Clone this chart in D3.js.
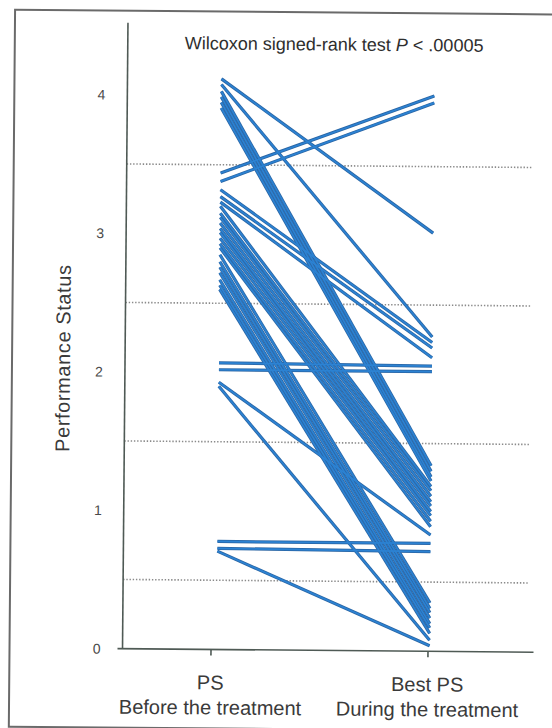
<!DOCTYPE html>
<html>
<head>
<meta charset="utf-8">
<script src="https://cdn.jsdelivr.net/npm/d3@7"></script>
<style>
  body { margin: 0; background: #fff; }
  svg { display: block; }
</style>
</head>
<body>
<svg id="chart" width="552" height="728"></svg>
<script>
// Paired performance status per patient: before treatment and best during treatment
const categories = ["PS", "Best PS"];
const categoryNotes = ["Before the treatment", "During the treatment"];
const psBefore = [4.12, 4.08, 4.03, 3.99, 3.95, 3.91, 3.44, 3.38, 3.32, 3.27, 3.23, 3.20,
                  3.15, 3.12, 3.08, 3.04, 3.01, 2.97, 2.93, 2.90, 2.85, 2.80, 2.76, 2.72,
                  2.67, 2.63, 2.60, 2.07, 2.02, 1.93, 1.90, 0.78, 0.73, 0.71];
const psBest   = [3.02, 2.27, 1.34, 1.30, 1.26, 1.23, 4.01, 3.96, 2.23, 2.19, 2.12, 1.19,
                  1.16, 1.12, 1.08, 1.05, 1.01, 0.98, 0.94, 0.90, 0.35, 0.31, 0.28, 0.24,
                  0.20, 0.17, 0.13, 2.06, 2.02, 0.84, 0.08, 0.78, 0.72, 0.04];
const yTicks = [0, 1, 2, 3, 4];
const guideLevels = [0.5, 1.5, 2.5, 3.5];
const titleParts = ["Wilcoxon signed-rank test ", "P", " < .00005"];
const yTitle = "Performance Status";

const svg = d3.select("#chart");
const page = svg.append("g").attr("transform", "rotate(0.5,276,364)");

// outer frame
page.append("rect")
  .attr("x", 12).attr("y", 12).attr("width", 560).attr("height", 717)
  .attr("fill", "none").attr("stroke", "#6a6a6a").attr("stroke-width", 2);

const y = d3.scaleLinear().domain([0, 4]).range([650, 96]);
const xAxisScale = d3.scalePoint().domain(categories).range([213, 430]);
const xLine = d3.scalePoint().domain(categories).range([219, 432]);
const axisX0 = 125;

// dotted reference levels
page.append("g").selectAll("line").data(guideLevels).join("line")
  .attr("x1", axisX0).attr("x2", 530)
  .attr("y1", d => y(d)).attr("y2", d => y(d))
  .attr("stroke", "#8a8a8a").attr("stroke-width", 1.6)
  .attr("stroke-dasharray", "1.4,1.8");

// y axis: labels only, plus the vertical rule
const yAxis = page.append("g").attr("transform", `translate(${axisX0},0)`)
  .call(d3.axisLeft(y).tickValues(yTicks).tickSize(0).tickPadding(22).tickFormat(d3.format("d")));
yAxis.select(".domain").remove();
yAxis.selectAll("text").attr("font-family", "Liberation Sans, Arial, sans-serif")
  .attr("font-size", 14).attr("fill", "#4a4a4a");
page.append("line").attr("x1", axisX0).attr("x2", axisX0).attr("y1", 24).attr("y2", y(0))
  .attr("stroke", "#4f5a55").attr("stroke-width", 1.6);

// x axis: baseline and two ticks
page.append("line").attr("x1", 120).attr("x2", 536).attr("y1", y(0)).attr("y2", y(0))
  .attr("stroke", "#4f5a55").attr("stroke-width", 1.6);
const xAxis = page.append("g").attr("transform", `translate(0,${y(0)})`)
  .call(d3.axisBottom(xAxisScale).tickSize(6).tickSizeOuter(0).tickFormat(""));
xAxis.select(".domain").remove();
xAxis.selectAll(".tick line").attr("stroke", "#4f5a55").attr("stroke-width", 1.6);

const labelFont = "Liberation Sans, Arial, sans-serif";
const catLabels = page.append("g").selectAll("g").data(categories).join("g")
  .attr("transform", d => `translate(${xAxisScale(d)},0)`);
catLabels.append("text").attr("y", 690).attr("text-anchor", "middle")
  .attr("font-family", labelFont).attr("font-size", 20).attr("fill", "#3a3a3a")
  .text(d => d);
catLabels.append("text").attr("y", 715).attr("text-anchor", "middle")
  .attr("font-family", labelFont).attr("font-size", 20).attr("fill", "#3a3a3a")
  .text((d, i) => categoryNotes[i]);

// y axis title
page.append("text")
  .attr("transform", "translate(70,360) rotate(-90)")
  .attr("text-anchor", "middle")
  .attr("font-family", labelFont).attr("font-size", 20).attr("letter-spacing", 0.6)
  .attr("fill", "#3a3a3a").text(yTitle);

// title with italic P
const title = page.append("text").attr("x", 182).attr("y", 50)
  .attr("font-family", labelFont).attr("font-size", 18).attr("fill", "#2e2e2e");
title.selectAll("tspan").data(titleParts).join("tspan")
  .attr("font-style", (d, i) => i === 1 ? "italic" : "normal")
  .text(d => d);

// patient lines: dark rim underneath, brighter core on top
const pairs = psBefore.map((v, i) => ({ before: v, best: psBest[i] }));
const linesG = page.append("g");
linesG.selectAll("line.under").data(pairs).join("line").attr("class", "under")
  .attr("x1", xLine(categories[0])).attr("x2", xLine(categories[1]))
  .attr("y1", d => y(d.before)).attr("y2", d => y(d.best))
  .attr("stroke", "#2a64a2").attr("stroke-width", 3.2).attr("stroke-linecap", "butt");
linesG.selectAll("line.over").data(pairs).join("line").attr("class", "over")
  .attr("x1", xLine(categories[0])).attr("x2", xLine(categories[1]))
  .attr("y1", d => y(d.before)).attr("y2", d => y(d.best))
  .attr("stroke", "#2c82d2").attr("stroke-width", 1.7).attr("stroke-linecap", "butt");
</script>
</body>
</html>
